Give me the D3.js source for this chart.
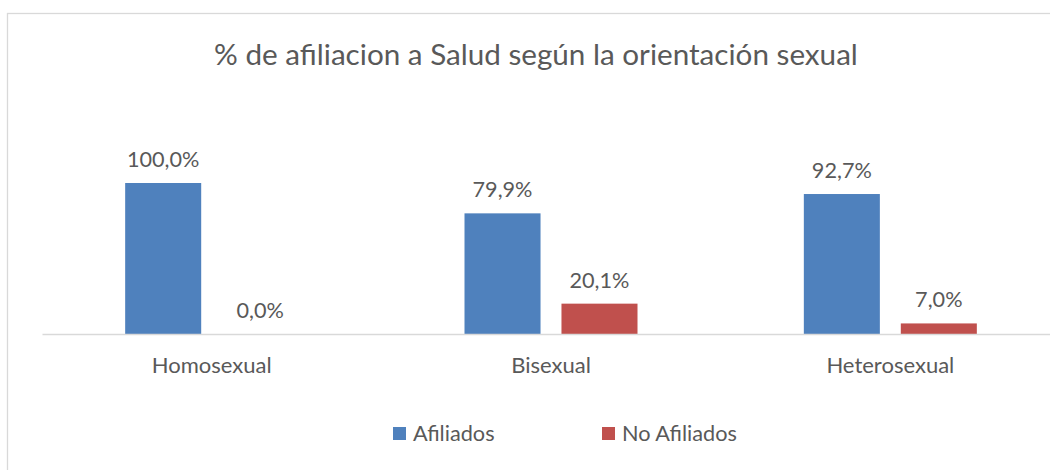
<!DOCTYPE html>
<html><head><meta charset="utf-8">
<script src="https://cdn.jsdelivr.net/npm/d3@7"></script>
<style>body{margin:0;background:#fff}svg{display:block}text{font-family:Lato,"Open Sans",sans-serif;fill:#595959}</style>
</head><body>
<svg id="c" width="1050" height="470"></svg>
<script>
const categories = ["Homosexual", "Bisexual", "Heterosexual"];
const seriesNames = ["Afiliados", "No Afiliados"];
const afiliados = [100.0, 79.9, 92.7];
const noAfiliados = [0.0, 20.1, 7.0];
const titleText = "% de afiliacion a Salud según la orientación sexual";
const colors = ["#4f81bd", "#c0504d"];

const svg = d3.select("#c");

// font size helper: size so that sample string spans the target width
function fitSize(sample, target) {
  const t = svg.append("text").style("font-size", "100px").text(sample);
  const w = t.node().getComputedTextLength();
  t.remove();
  return 100 * target / w;
}
const titleSize = fitSize(titleText, 644);
const labelSize = fitSize("79,9%", 60);
const catSize = fitSize("Homosexual", 120);
const legSize = fitSize("No Afiliados", 115);

svg.append("rect").attr("x", 7.5).attr("y", 13.5).attr("width", 1060).attr("height", 470)
  .attr("fill", "#fff").attr("stroke", "#d9d9d9").attr("stroke-width", 1.3);

svg.append("text").attr("x", 536).attr("y", 65).attr("text-anchor", "middle")
  .style("font-size", titleSize + "px").text(titleText);

const x0 = d3.scaleBand().domain(categories).range([42, 1060]);
const x1 = d3.scaleBand().domain(seriesNames).range([0, 173]).paddingInner(0.216);
const y = d3.scaleLinear().domain([0, 100]).range([334, 183]);

const data = categories.map((c, i) => ({cat: c, vals: [afiliados[i], noAfiliados[i]]}));
const fmt = v => v.toFixed(1).replace(".", ",") + "%";

const g = svg.append("g");
const groups = g.selectAll("g.grp").data(data).enter().append("g")
  .attr("transform", d => `translate(${x0(d.cat) + x0.bandwidth() / 2 - 86.5},0)`);
groups.selectAll("rect").data(d => d.vals.map((v, j) => ({v, s: seriesNames[j], j})))
  .enter().append("rect")
  .attr("x", d => x1(d.s)).attr("width", x1.bandwidth())
  .attr("y", d => y(d.v)).attr("height", d => y(0) - y(d.v))
  .attr("fill", d => colors[d.j]);
groups.selectAll("text").data(d => d.vals.map((v, j) => ({v, s: seriesNames[j], j})))
  .enter().append("text")
  .attr("x", d => x1(d.s) + x1.bandwidth() / 2).attr("y", d => y(d.v) - 16)
  .attr("text-anchor", "middle").style("font-size", labelSize + "px").text(d => fmt(d.v));

// axis
const ax = svg.append("g").attr("transform", `translate(0,${y(0)})`)
  .call(d3.axisBottom(x0).tickSize(0).tickPadding(0));
ax.select(".domain").attr("stroke", "#d9d9d9").attr("stroke-width", 1.3);
ax.selectAll("text").style("font-size", catSize + "px").attr("fill", "#595959")
  .attr("dy", null).attr("y", 39)
  .style("font-family", 'Lato,"Open Sans",sans-serif');

// legend
const leg = svg.append("g");
const lx = [393, 602];
seriesNames.forEach((s, i) => {
  leg.append("rect").attr("x", lx[i]).attr("y", 427).attr("width", 13).attr("height", 13).attr("fill", colors[i]);
  leg.append("text").attr("x", lx[i] + 20).attr("y", 441).style("font-size", legSize + "px").text(s);
});
</script>
</body></html>
